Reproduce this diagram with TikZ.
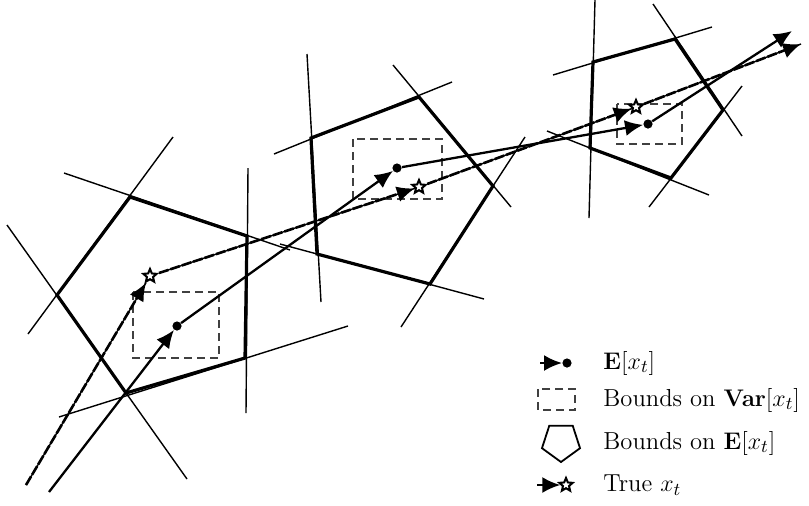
\documentclass[tikz,border=0pt]{standalone}
\usetikzlibrary{arrows.meta,shapes.geometric}
\begin{document}
\begin{tikzpicture}[x=0.5pt,y=-0.5pt,
 edge/.style={line width=1.6pt, line join=miter},
 cut/.style={line width=0.7pt},
 varbox/.style={draw=black!75, line width=0.7pt, dash pattern=on 4pt off 2.5pt},
 meanpath/.style={line width=1.15pt, -{Latex[length=9pt,width=8pt]}},
 truepath/.style={line width=1.3pt, dash pattern=on 5pt off 1pt, -{Latex[length=9pt,width=8pt]}, preaction={draw, line width=0.7pt, solid, -}},
 dotm/.style={circle, fill=black, inner sep=0pt, minimum size=4.6pt},
 starm/.style={star, star points=5, star point ratio=2.2, draw, fill=white, line width=1pt, inner sep=0pt, minimum size=7pt},
 lbl/.style={anchor=west, inner sep=0pt, font=\fontsize{12.3}{14}\selectfont}]
\useasboundingbox (0,0) rectangle (809,505);

% ---------- pentagon 1 ----------
\coordinate (a1) at (130,197); \coordinate (b1) at (247,236);
\coordinate (c1) at (245,358); \coordinate (d1) at (126,393);
\coordinate (e1) at (57,295);
\draw[cut] (173,137) -- (28,334);
\draw[cut] (64,173) -- (290,250);
\draw[cut] (248,168) -- (246,413);
\draw[cut] (59,417) -- (348,326);
\draw[cut] (7,225) -- (187,479);
\draw[edge] (a1) -- (b1) -- (c1) -- (d1) -- (e1) -- cycle;
\draw[varbox] (133,292) rectangle (219,358);

% ---------- pentagon 2 ----------
\coordinate (a2) at (311,138); \coordinate (b2) at (419,97);
\coordinate (c2) at (493,186); \coordinate (d2) at (430,284);
\coordinate (e2) at (317,254);
\draw[cut] (307,54) -- (321,302);
\draw[cut] (274,154) -- (452,82);
\draw[cut] (393,65) -- (511,207);
\draw[cut] (525,137) -- (401,327);
\draw[cut] (280,244) -- (484,299);
\draw[edge] (a2) -- (b2) -- (c2) -- (d2) -- (e2) -- cycle;
\draw[varbox] (353,139) rectangle (442,199);

% ---------- pentagon 3 ----------
\coordinate (a3) at (593,62); \coordinate (b3) at (675,39);
\coordinate (c3) at (723,110); \coordinate (d3) at (671,178);
\coordinate (e3) at (590,148);
\draw[cut] (595,0) -- (589,218);
\draw[cut] (553,75) -- (712,27);
\draw[cut] (653,4) -- (742,136);
\draw[cut] (742,86) -- (649,207);
\draw[cut] (547,131) -- (709,195);
\draw[edge] (a3) -- (b3) -- (c3) -- (d3) -- (e3) -- cycle;
\draw[varbox] (617,104) rectangle (682,144);

% ---------- mean path ----------
\coordinate (m0) at (49,492);
\node[dotm] (m1) at (177,326) {};
\node[dotm] (m2) at (397,168) {};
\node[dotm] (m3) at (648,124) {};
\coordinate (m4) at (792,31);
\draw[meanpath] (m0) -- (m1);
\draw[meanpath] (m1) -- (m2);
\draw[meanpath] (m2) -- (m3);
\draw[meanpath] (m3) -- (m4);

% ---------- true path ----------
\coordinate (t0) at (26,485);
\node[starm] (t1) at (150,276) {};
\node[starm] (t2) at (419,187) {};
\node[starm] (t3) at (636,107) {};
\coordinate (t4) at (801,44);
\draw[truepath] (t0) -- (t1);
\draw[truepath] (t1) -- (t2);
\draw[truepath] (t2) -- (t3);
\draw[truepath] (t3) -- (t4);

% ---------- legend ----------
\coordinate (la) at (540,363);
\node[dotm] (lb) at (567,363) {};
\draw[meanpath] (la) -- (lb);
\node[lbl] (lt1) at (603,363) {$\mathbf{E}[x_t]$};

\draw[varbox] (538,389) rectangle (575,410);
\node[lbl] (lt2) at (603,400) {Bounds on $\mathbf{Var}[x_t]$};

\node[regular polygon, regular polygon sides=5, shape border rotate=180, draw, line width=0.9pt, minimum size=20pt, inner sep=0pt] (lp) at (561,442) {};
\node[lbl] (lt3) at (603,443) {Bounds on $\mathbf{E}[x_t]$};

\coordinate (lc) at (537,485);
\node[starm] (ld) at (566,485) {};
\draw[meanpath] (lc) -- (ld);
\node[lbl] (lt4) at (603,485) {True $x_t$};
\end{tikzpicture}
\end{document}
